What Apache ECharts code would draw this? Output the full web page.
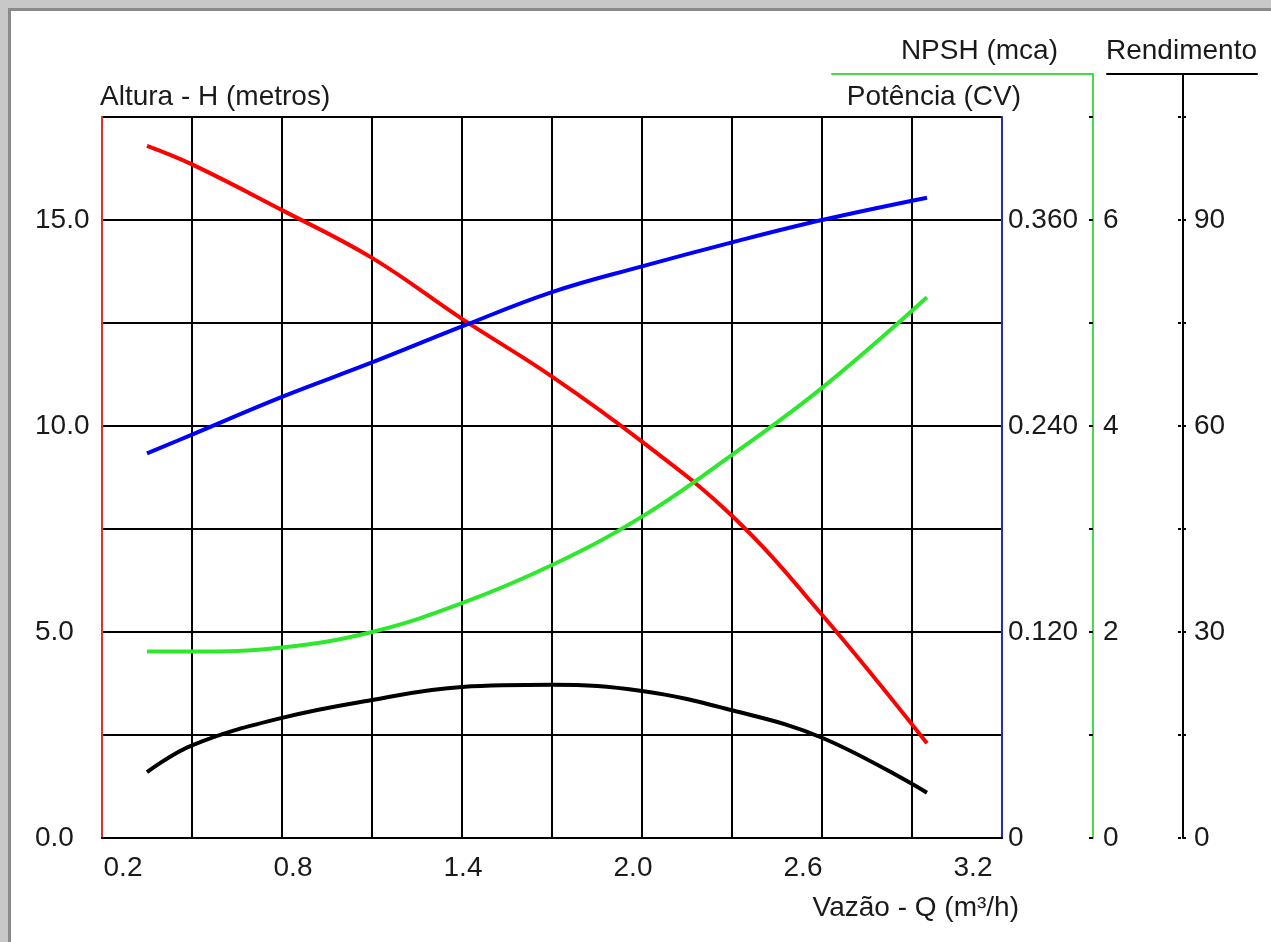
<!DOCTYPE html>
<html>
<head>
<meta charset="utf-8">
<title>Curva da bomba</title>
<script src="https://cdn.jsdelivr.net/npm/echarts@6/dist/echarts.min.js"></script>
<style>
html, body { margin: 0; padding: 0; background: #c8c8c8; }
#frame { position: absolute; left: 8px; top: 8px; width: 1263px; height: 934px; background: #fff;
         border-left: 3px solid #8a8a8a; border-top: 3px solid #8a8a8a; box-sizing: border-box; }
#chart { position: absolute; left: 0; top: 0; width: 1271px; height: 942px; }
</style>
</head>
<body>
<div id="frame"></div>
<div id="chart"></div>
<script>
// vazao Q (m3/h) dos pontos
var vazao      = [0.35, 0.5, 0.8, 1.1, 1.4, 1.7, 2.0, 2.3, 2.6, 2.95];
var altura     = [16.8, 16.35, 15.24, 14.08, 12.6, 11.2, 9.62, 7.82, 5.42, 2.3];  // H (m)
var potencia   = [0.224, 0.235, 0.257, 0.277, 0.298, 0.318, 0.333, 0.347, 0.360, 0.373]; // CV
var npsh       = [1.81, 1.81, 1.85, 2.0, 2.28, 2.65, 3.12, 3.72, 4.37, 5.25];     // mca
var rendimento = [9.6, 13.5, 17.5, 20.1, 22.0, 22.3, 21.4, 18.6, 14.6, 6.6];      // %

// rotulos dos eixos
var vazaoTicks      = ['0.2', '0.8', '1.4', '2.0', '2.6', '3.2'];
var alturaTicks     = [0, 5, 10, 15];
var potenciaTicks   = [0, 0.12, 0.24, 0.36];
var npshTicks       = [0, 2, 4, 6];
var rendimentoTicks = [0, 30, 60, 90];

var font = 'Liberation Sans, Arial, sans-serif';
var ink = '#1a1a1a';

function pair(xs, ys) {
  return xs.map(function (x, i) { return [x, ys[i]]; });
}
function hasTick(list, v) {
  return list.some(function (t) { return Math.abs(t - v) < 1e-6; });
}
function lbl(extra) {
  var o = { fontSize: 28, fontFamily: font, color: ink };
  for (var k in extra) o[k] = extra[k];
  return o;
}
function title(text, pos) {
  var t = { text: text, padding: 0,
            textStyle: { fontSize: 28, fontWeight: 'normal', fontFamily: font, color: ink, lineHeight: 28 } };
  for (var k in pos) t[k] = pos[k];
  return t;
}
function line(color, yIdx, data) {
  return { type: 'line', xAxisIndex: 0, yAxisIndex: yIdx, data: data,
           smooth: 0.4, showSymbol: false, lineStyle: { color: color, width: 4 } };
}
function axisLine(color) {
  return { show: true, onZero: false, lineStyle: { color: color, width: 2 } };
}

// eixos extras sobem ate o traco de cima (74px), a area util ate 117px
var stretch = 764 / 721;

var chart = echarts.init(document.getElementById('chart'));
var option = {
  backgroundColor: 'transparent',
  animation: false,
  title: [
    title('Altura - H (metros)', { left: 100, top: 83 }),
    title('Potência (CV)', { right: 250, top: 83 }),
    title('NPSH (mca)', { right: 213, top: 37 }),
    title('Rendimento', { left: 1106, top: 37 }),
    title('Vazão - Q (m³/h)', { right: 252, top: 894 })
  ],
  grid: [
    { left: 102, right: 269, top: 117, bottom: 104, outerBoundsMode: 'none' },
    { left: 832, right: 178, top: 74, bottom: 104, outerBoundsMode: 'none' },
    { left: 1107, right: 14, top: 74, bottom: 104, outerBoundsMode: 'none' },
    { left: 123, right: 298, top: 117, bottom: 104, outerBoundsMode: 'none' }
  ],
  xAxis: [
    { gridIndex: 0, type: 'value', min: 0.2, max: 3.2, interval: 0.3,
      axisLine: axisLine('#000'),
      splitLine: { show: true, lineStyle: { color: '#000', width: 2 } },
      axisTick: { show: false }, axisLabel: { show: false } },
    { gridIndex: 1, type: 'value', position: 'top', min: 0, max: 1,
      axisLine: axisLine('#44dd44'),
      splitLine: { show: false }, axisTick: { show: false }, axisLabel: { show: false } },
    { gridIndex: 2, type: 'value', position: 'top', min: 0, max: 1,
      axisLine: axisLine('#000'),
      splitLine: { show: false }, axisTick: { show: false }, axisLabel: { show: false } },
    { gridIndex: 3, type: 'category', data: vazaoTicks, boundaryGap: false,
      axisLine: { show: false }, axisTick: { show: false }, splitLine: { show: false },
      axisLabel: lbl({ margin: 16, interval: 0 }) }
  ],
  yAxis: [
    { gridIndex: 0, type: 'value', position: 'left', min: 0, max: 17.5, interval: 2.5,
      axisLine: axisLine('#e03030'),
      splitLine: { show: true, lineStyle: { color: '#000', width: 2 } },
      axisTick: { show: false },
      axisLabel: lbl({ margin: 67, align: 'left',
        formatter: function (v) { return hasTick(alturaTicks, v) ? v.toFixed(1) : ''; } }) },
    { gridIndex: 0, type: 'value', position: 'right', min: 0, max: 0.42, interval: 0.06,
      axisLine: axisLine('#2a2ab8'),
      splitLine: { show: false }, axisTick: { show: false },
      axisLabel: lbl({ margin: 6,
        formatter: function (v) {
          if (!hasTick(potenciaTicks, v)) return '';
          return v === 0 ? '0' : v.toFixed(3);
        } }) },
    { gridIndex: 0, type: 'value', show: false, min: 0, max: 7 },
    { gridIndex: 0, type: 'value', show: false, min: 0, max: 105 },
    { gridIndex: 1, type: 'value', position: 'right', min: 0, max: 7 * stretch, interval: 1,
      axisLine: axisLine('#44dd44'),
      splitLine: { show: false },
      axisTick: { show: true, inside: true, length: 4, lineStyle: { color: '#000', width: 2 } },
      axisLabel: lbl({ margin: 10, showMaxLabel: false,
        formatter: function (v) { return hasTick(npshTicks, v) ? String(v) : ''; } }) },
    { gridIndex: 2, type: 'value', position: 'right', offset: -74, min: 0, max: 105 * stretch, interval: 15,
      axisLine: axisLine('#000'),
      splitLine: { show: false },
      axisTick: { show: true, length: 3, lineStyle: { color: '#000', width: 2 } },
      axisLabel: lbl({ margin: 11, showMaxLabel: false,
        formatter: function (v) { return hasTick(rendimentoTicks, v) ? String(v) : ''; } }) },
    { gridIndex: 2, type: 'value', position: 'right', offset: -74, min: 0, max: 105 * stretch, interval: 15,
      axisLine: { show: false }, splitLine: { show: false }, axisLabel: { show: false },
      axisTick: { show: true, inside: true, length: 3, lineStyle: { color: '#000', width: 2 } } },
    { gridIndex: 3, type: 'value', show: false, min: 0, max: 1 }
  ],
  series: [
    line('#ff0000', 0, pair(vazao, altura)),
    line('#0000ff', 1, pair(vazao, potencia)),
    line('#2ee82e', 2, pair(vazao, npsh)),
    line('#000000', 3, pair(vazao, rendimento))
  ]
};
chart.setOption(option);
</script>
</body>
</html>
